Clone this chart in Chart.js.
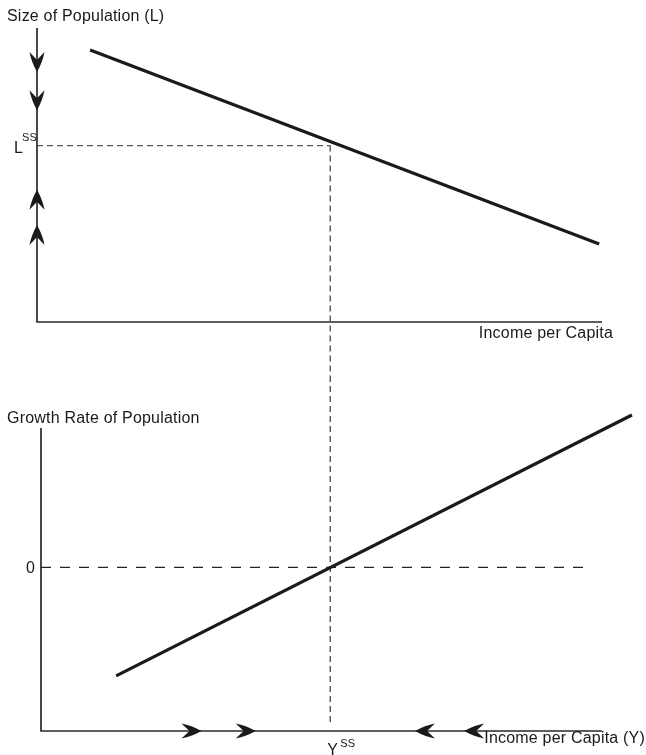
<!DOCTYPE html>
<html>
<head>
<meta charset="utf-8">
<script src="https://cdn.jsdelivr.net/npm/chart.js@4.4.1/dist/chart.umd.min.js"></script>
<style>
  html, body { margin: 0; padding: 0; background: #fff; }
  #wrap { position: relative; width: 646px; height: 755px; }
  #top-wrap { position: absolute; left: 0; top: 0; width: 646px; height: 376px; }
  #bottom-wrap { position: absolute; left: 0; top: 376px; width: 646px; height: 379px; }
</style>
</head>
<body>
<div id="wrap">
  <div id="top-wrap"><canvas id="pop-chart" width="646" height="376"></canvas></div>
  <div id="bottom-wrap"><canvas id="growth-chart" width="646" height="379"></canvas></div>
</div>
<script>
// steady state values
const incomeSS = 51.9;      // Y^ss
const popSS = 60;           // L^ss

// top panel: size of population vs income
const popLineIncome = [9.4, 99.5];
const popLineSize = [92.5, 26.5];
const popArrowsDown = [85, 72];
const popArrowsUp = [45, 33];

// bottom panel: growth rate vs income
const growthLineIncome = [14, 105.3];
const growthLineRate = [-35.8, 50.3];
const zeroLineIncome = [0.7, 97.9];
const incomeArrowsRight = [29.1, 38.7];
const incomeArrowsLeft = [66.9, 75.6];

// text
const topTitle = 'Size of Population (L)';
const topXLabel = 'Income per Capita';
const bottomTitle = 'Growth Rate of Population';
const bottomXLabel = 'Income per Capita (Y)';
const zeroLabel = '0';

const FONT = '16px "Liberation Sans", Arial, sans-serif';
const SUP_FONT = '11px "Liberation Sans", Arial, sans-serif';
const INK = '#1a1a1a';

function pts(xs, ys) {
    return xs.map((x, i) => ({ x: x, y: ys[i] }));
}

function arrowHead(ctx, x, y, angle) {
    const len = 20, half = 7.5, notch = 12;
    ctx.save();
    ctx.translate(x, y);
    ctx.rotate(angle);
    ctx.beginPath();
    ctx.moveTo(0, 0);
    ctx.quadraticCurveTo(-len * 0.5, -half * 0.75, -len, -half);
    ctx.lineTo(-notch, 0);
    ctx.lineTo(-len, half);
    ctx.quadraticCurveTo(-len * 0.5, half * 0.75, 0, 0);
    ctx.closePath();
    ctx.fillStyle = INK;
    ctx.fill();
    ctx.restore();
}

function text(ctx, str, x, y, align, font) {
    ctx.save();
    ctx.font = font || FONT;
    ctx.letterSpacing = '0.2px';
    ctx.fillStyle = INK;
    ctx.textAlign = align || 'left';
    ctx.textBaseline = 'alphabetic';
    ctx.fillText(str, x, y);
    ctx.restore();
}

function axesLines(ctx, area) {
    ctx.save();
    ctx.strokeStyle = '#2a2a2a';
    ctx.lineWidth = 1.7;
    ctx.beginPath();
    ctx.moveTo(area.left, area.top);
    ctx.lineTo(area.left, area.bottom);
    ctx.lineTo(area.right, area.bottom);
    ctx.stroke();
    ctx.restore();
}

function dashedVertical(ctx, x, y1, y2) {
    ctx.save();
    ctx.strokeStyle = '#555';
    ctx.lineWidth = 1.4;
    ctx.setLineDash([6, 4]);
    ctx.beginPath();
    ctx.moveTo(x, y1);
    ctx.lineTo(x, y2);
    ctx.stroke();
    ctx.restore();
}

const topDecor = {
    id: 'topDecor',
    beforeDatasetsDraw(chart) {
        const { ctx, chartArea, scales } = chart;
        axesLines(ctx, chartArea);
        dashedVertical(ctx, scales.x.getPixelForValue(incomeSS), scales.y.getPixelForValue(popSS), chart.height);
    },
    afterDraw(chart) {
        const { ctx, chartArea, scales } = chart;
        const ax = chartArea.left;
        popArrowsDown.forEach(v => arrowHead(ctx, ax, scales.y.getPixelForValue(v), Math.PI / 2));
        popArrowsUp.forEach(v => arrowHead(ctx, ax, scales.y.getPixelForValue(v), -Math.PI / 2));
        const ly = scales.y.getPixelForValue(popSS);
        text(ctx, topTitle, 7, 21);
        text(ctx, topXLabel, chartArea.right + 11, chartArea.bottom + 16, 'right');
        text(ctx, 'L', ax - 14, ly + 7, 'right');
        text(ctx, 'SS', ax, ly - 5, 'right', SUP_FONT);
    }
};

const bottomDecor = {
    id: 'bottomDecor',
    beforeDatasetsDraw(chart) {
        const { ctx, chartArea, scales } = chart;
        axesLines(ctx, chartArea);
        dashedVertical(ctx, scales.x.getPixelForValue(incomeSS), 0, chartArea.bottom - 6);
    },
    afterDraw(chart) {
        const { ctx, chartArea, scales } = chart;
        const ay = chartArea.bottom;
        incomeArrowsRight.forEach(v => arrowHead(ctx, scales.x.getPixelForValue(v), ay, 0));
        incomeArrowsLeft.forEach(v => arrowHead(ctx, scales.x.getPixelForValue(v), ay, Math.PI));
        const sx = scales.x.getPixelForValue(incomeSS);
        text(ctx, bottomTitle, 7, 47);
        text(ctx, bottomXLabel, chartArea.right + 43, chartArea.bottom + 12, 'right');
        text(ctx, zeroLabel, chartArea.left - 6, scales.y.getPixelForValue(0) + 6, 'right');
        text(ctx, 'Y', sx - 3, chart.height, 'left');
        text(ctx, 'SS', sx + 10, chartArea.bottom + 16, 'left', SUP_FONT);
    }
};

const baseOpts = (padding, xMin, yMin, yMax) => ({
    responsive: false,
    animation: false,
    layout: { padding: padding },
    plugins: { legend: { display: false }, tooltip: { enabled: false } },
    elements: { point: { radius: 0 } },
    scales: {
        x: { type: 'linear', min: xMin, max: 100, display: false },
        y: { type: 'linear', min: yMin, max: yMax, display: false }
    }
});

new Chart(document.getElementById('pop-chart').getContext('2d'), {
    type: 'scatter',
    data: {
        datasets: [{
            data: pts(popLineIncome, popLineSize),
            showLine: true,
            borderColor: INK,
            borderWidth: 3.2,
            clip: false
        }, {
            data: pts([0, incomeSS], [popSS, popSS]),
            showLine: true,
            borderColor: '#555',
            borderWidth: 1.4,
            borderDash: [6, 4]
        }]
    },
    options: baseOpts({ left: 37, right: 44, top: 28, bottom: 54 }, 0, 0, 100),
    plugins: [topDecor]
});

new Chart(document.getElementById('growth-chart').getContext('2d'), {
    type: 'scatter',
    data: {
        datasets: [{
            data: pts(growthLineIncome, growthLineRate),
            showLine: true,
            borderColor: INK,
            borderWidth: 3.2,
            clip: false
        }, {
            data: pts(zeroLineIncome, [0, 0]),
            showLine: true,
            borderColor: '#222',
            borderWidth: 1.3,
            borderDash: [10, 9]
        }]
    },
    options: baseOpts({ left: 41, right: 44, top: 52, bottom: 24 }, 0.7, -54, 46),
    plugins: [bottomDecor]
});
</script>
</body>
</html>
